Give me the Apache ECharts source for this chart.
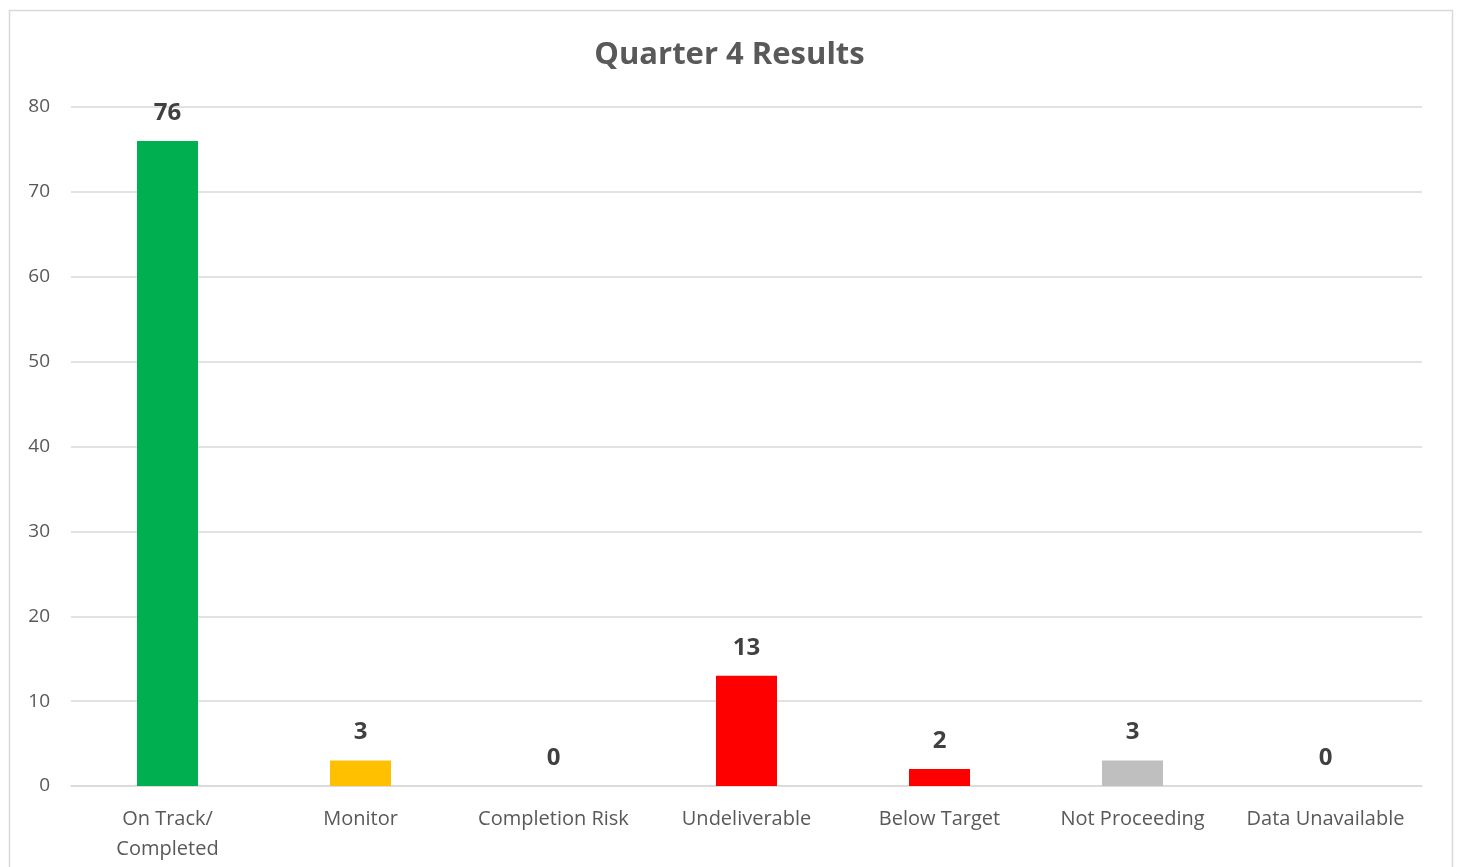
<!DOCTYPE html>
<html>
<head>
<meta charset="utf-8">
<script src="https://cdn.jsdelivr.net/npm/echarts@6/dist/echarts.min.js"></script>
<style>
  html, body { margin: 0; padding: 0; background: #fff; }
  #chart { width: 1459px; height: 867px; }
</style>
</head>
<body>
<div id="chart"></div>
<script>
// Quarter 4 status counts
const categories = ['On Track/\nCompleted', 'Monitor', 'Completion Risk', 'Undeliverable', 'Below Target', 'Not Proceeding', 'Data Unavailable'];
const values = [76, 3, 0, 13, 2, 3, 0];
const barColors = ['#00B050', '#FFC000', '#FFC000', '#FF0000', '#FF0000', '#BFBFBF', '#BFBFBF'];
const yTicks = { min: 0, max: 80, interval: 10 };

const chart = echarts.init(document.getElementById('chart'), null, { renderer: 'canvas' });
const FONT = '"Open Sans", "Noto Sans", sans-serif';

chart.setOption({
  backgroundColor: '#ffffff',
  animation: false,
  graphic: [{
    type: 'rect',
    shape: { x: 9.5, y: 10.5, width: 1443, height: 880 },
    style: { fill: 'none', stroke: '#d9d9d9', lineWidth: 1.5 },
    silent: true
  }],
  title: {
    text: 'Quarter 4 Results',
    left: 'center',
    top: 35,
    textStyle: { fontFamily: FONT, fontSize: 31, fontWeight: 'bold', color: '#595959' }
  },
  grid: { left: 71, right: 37, top: 107, bottom: 81 },
  xAxis: {
    type: 'category',
    data: categories,
    axisLine: { show: true, lineStyle: { color: '#d9d9d9', width: 1.5 } },
    axisTick: { show: false },
    axisLabel: {
      interval: 0,
      margin: 18,
      fontFamily: FONT,
      fontSize: 20,
      color: '#595959',
      lineHeight: 30
    }
  },
  yAxis: {
    type: 'value',
    min: yTicks.min,
    max: yTicks.max,
    interval: yTicks.interval,
    axisLine: { show: false },
    axisTick: { show: false },
    splitLine: { lineStyle: { color: '#d9d9d9', width: 1.5 } },
    axisLabel: { margin: 21, fontFamily: FONT, fontSize: 19, color: '#595959' }
  },
  series: [{
    type: 'bar',
    data: values.map((v, i) => ({ value: v, itemStyle: { color: barColors[i] } })),
    barWidth: 61,
    label: {
      show: true,
      position: 'top',
      distance: 16,
      fontFamily: FONT,
      fontSize: 24,
      fontWeight: 'bold',
      color: '#404040'
    }
  }]
});
</script>
</body>
</html>
